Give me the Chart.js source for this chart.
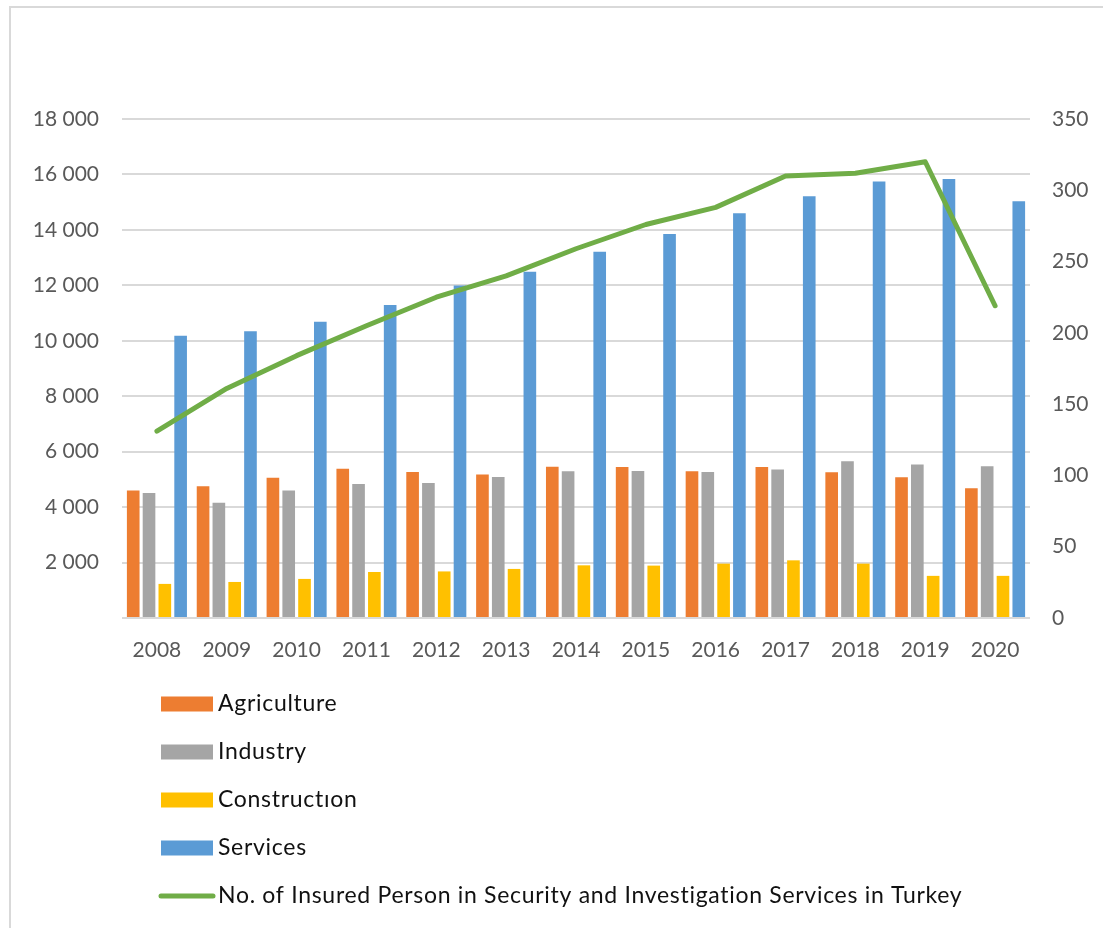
<!DOCTYPE html>
<html>
<head>
<meta charset="utf-8">
<title>Employment by sector and insured persons in security services</title>
<script src="https://cdn.jsdelivr.net/npm/chart.js@4.4.1/dist/chart.umd.min.js"></script>
<style>
  html, body { margin: 0; padding: 0; background: #fff; }
  #wrap { width: 1103px; height: 928px; }
</style>
</head>
<body>
<div id="wrap"><canvas id="sectorChart" width="1103" height="928"></canvas></div>
<script>
// employment by sector (thousand persons), left axis
const years = ['2008', '2009', '2010', '2011', '2012', '2013', '2014', '2015', '2016', '2017', '2018', '2019', '2020'];
const agriculture = [4600, 4750, 5060, 5380, 5270, 5180, 5460, 5450, 5290, 5450, 5260, 5080, 4680];
const industry = [4510, 4160, 4600, 4830, 4870, 5090, 5290, 5300, 5270, 5360, 5650, 5540, 5470];
const construction = [1230, 1300, 1410, 1660, 1680, 1770, 1900, 1890, 1960, 2080, 1960, 1520, 1520];
const services = [10180, 10340, 10690, 11290, 11990, 12490, 13210, 13850, 14600, 15210, 15750, 15840, 15030];
// insured persons in security and investigation services, right axis
const insured = [131, 161, 184, 205, 225, 240, 259, 276, 288, 310, 312, 320, 219];

const leftTicks = { min: 0, max: 18000, step: 2000 };
const rightTicks = { min: 0, max: 350, step: 50 };

const FONT = 'Lato, "Open Sans", sans-serif';
const tickFont = { family: FONT, size: 21 };
const tickColor = '#595959';
const gridColor = '#d9d9d9';

function spaced(v) {
  return String(v).replace(/\B(?=(\d{3})+(?!\d))/g, ' ');
}

// frame lines plus a stacked legend under the x axis
const frameAndLegend = {
  id: 'frameAndLegend',
  beforeDraw(chart) {
    const ctx = chart.ctx;
    ctx.save();
    ctx.strokeStyle = gridColor;
    ctx.lineWidth = 2;
    ctx.beginPath();
    ctx.moveTo(10, chart.height);
    ctx.lineTo(10, 7);
    ctx.lineTo(chart.width, 7);
    ctx.stroke();
    ctx.restore();
  },
  afterDraw(chart) {
    const ctx = chart.ctx;
    const x0 = 161, top = 704, gap = 48;
    ctx.save();
    ctx.font = '23px ' + FONT;
    ctx.letterSpacing = '0.7px';
    ctx.textBaseline = 'middle';
    chart.data.datasets.forEach((ds, i) => {
      const y = top + gap * i;
      if (ds.type === 'line') {
        ctx.strokeStyle = ds.borderColor;
        ctx.lineWidth = 5;
        ctx.lineCap = 'round';
        ctx.beginPath();
        ctx.moveTo(x0, y);
        ctx.lineTo(x0 + 52, y);
        ctx.stroke();
      } else {
        ctx.fillStyle = ds.backgroundColor;
        ctx.fillRect(x0, y - 7.5, 52, 15);
      }
      ctx.fillStyle = '#111';
      ctx.fillText(ds.label, x0 + 57, y);
    });
    ctx.restore();
  }
};

const barStyle = { type: 'bar', yAxisID: 'y', order: 1, categoryPercentage: 0.905, barPercentage: 0.8 };

new Chart(document.getElementById('sectorChart'), {
  data: {
    labels: years,
    datasets: [
      { ...barStyle, label: 'Agriculture', data: agriculture, backgroundColor: '#ed7d31' },
      { ...barStyle, label: 'Industry', data: industry, backgroundColor: '#a5a5a5' },
      { ...barStyle, label: 'Constructıon', data: construction, backgroundColor: '#ffc000' },
      { ...barStyle, label: 'Services', data: services, backgroundColor: '#5b9bd5' },
      {
        type: 'line',
        label: 'No. of Insured Person in Security and Investigation Services in Turkey',
        data: insured,
        yAxisID: 'y1',
        order: 0,
        borderColor: '#70ad47',
        borderWidth: 5,
        borderCapStyle: 'round',
        borderJoinStyle: 'round',
        pointRadius: 0,
        tension: 0
      }
    ]
  },
  options: {
    responsive: false,
    animation: false,
    layout: { padding: { top: 119, left: 0, right: 0, bottom: 0 } },
    plugins: {
      legend: { display: false },
      tooltip: { enabled: false }
    },
    scales: {
      x: {
        grid: { display: false, drawTicks: false },
        border: { display: false },
        ticks: { font: tickFont, color: tickColor, padding: 20, maxRotation: 0 },
        afterFit(scale) { scale.height = 310; }
      },
      y: {
        position: 'left',
        min: leftTicks.min,
        max: leftTicks.max,
        grid: { color: gridColor, lineWidth: 2, drawTicks: false },
        border: { display: false },
        ticks: {
          stepSize: leftTicks.step,
          font: tickFont,
          color: tickColor,
          padding: 23,
          callback: (v) => (v === 0 ? '' : spaced(v))
        },
        afterFit(scale) { scale.width = 122; }
      },
      y1: {
        position: 'right',
        min: rightTicks.min,
        max: rightTicks.max,
        grid: { display: false, drawTicks: false },
        border: { display: false },
        ticks: { stepSize: rightTicks.step, font: tickFont, color: tickColor, padding: 22 },
        afterFit(scale) { scale.width = 73; }
      }
    }
  },
  plugins: [frameAndLegend]
});
</script>
</body>
</html>
